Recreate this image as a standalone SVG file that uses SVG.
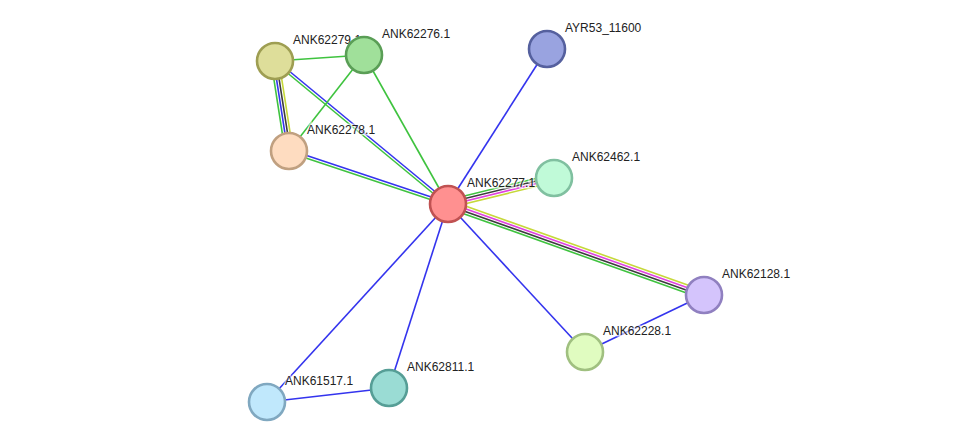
<svg xmlns="http://www.w3.org/2000/svg" width="975" height="448" viewBox="0 0 975 448">
<style>
.e{stroke-width:1.6;fill:none}
.g{stroke:#3fc33f}.b{stroke:#3434ee}.k{stroke:#3c3c3c}.m{stroke:#e040e0}.y{stroke:#c6d83a}
.n{stroke-width:2.6}
.t{font-family:"Liberation Sans",Arial,sans-serif;font-size:12px;fill:#222;paint-order:stroke;stroke:#fff;stroke-width:3;stroke-opacity:0.6}
</style>
<rect width="975" height="448" fill="#fff"/>
<g id="connectors">
<line class="e g" x1="275" y1="61" x2="364" y2="55"/>
<line class="e g" transform="translate(-3.85 0.6)" x1="275" y1="61" x2="289" y2="151"/>
<line class="e b" transform="translate(-1.28 0.2)" x1="275" y1="61" x2="289" y2="151"/>
<line class="e k" transform="translate(1.28 -0.2)" x1="275" y1="61" x2="289" y2="151"/>
<line class="e y" transform="translate(3.85 -0.6)" x1="275" y1="61" x2="289" y2="151"/>
<line class="e b" transform="translate(0.83 -1.0)" x1="275" y1="61" x2="448" y2="204"/>
<line class="e g" transform="translate(-0.83 1.0)" x1="275" y1="61" x2="448" y2="204"/>
<line class="e g" x1="364" y1="55" x2="289" y2="151"/>
<line class="e g" x1="364" y1="55" x2="448" y2="204"/>
<line class="e b" transform="translate(0.41 -1.23)" x1="289" y1="151" x2="448" y2="204"/>
<line class="e g" transform="translate(-0.41 1.23)" x1="289" y1="151" x2="448" y2="204"/>
<line class="e b" x1="547" y1="49" x2="448" y2="204"/>
<line class="e g" transform="translate(-0.93 -3.79)" x1="448" y1="204" x2="554" y2="178"/>
<line class="e k" transform="translate(-0.31 -1.26)" x1="448" y1="204" x2="554" y2="178"/>
<line class="e m" transform="translate(0.31 1.26)" x1="448" y1="204" x2="554" y2="178"/>
<line class="e y" transform="translate(0.93 3.79)" x1="448" y1="204" x2="554" y2="178"/>
<line class="e y" transform="translate(1.31 -3.67)" x1="448" y1="204" x2="704" y2="295"/>
<line class="e m" transform="translate(0.44 -1.22)" x1="448" y1="204" x2="704" y2="295"/>
<line class="e k" transform="translate(-0.44 1.22)" x1="448" y1="204" x2="704" y2="295"/>
<line class="e g" transform="translate(-1.31 3.67)" x1="448" y1="204" x2="704" y2="295"/>
<line class="e b" x1="448" y1="204" x2="585" y2="352"/>
<line class="e b" x1="704" y1="295" x2="585" y2="352"/>
<line class="e b" x1="448" y1="204" x2="389" y2="388"/>
<line class="e b" x1="448" y1="204" x2="267" y2="402"/>
<line class="e b" x1="389" y1="388" x2="267" y2="402"/>
</g>
<g id="ANK62279.1"><circle class="n" cx="275" cy="61" r="18" fill="#dede9a" stroke="#9e9e52"/><text class="t" x="293" y="44">ANK62279.1</text></g>
<g id="ANK62276.1"><circle class="n" cx="364" cy="55" r="18" fill="#a0e09a" stroke="#5a9e56"/><text class="t" x="382" y="38">ANK62276.1</text></g>
<g id="ANK62278.1"><circle class="n" cx="289" cy="151" r="18" fill="#fedcc0" stroke="#c0a080"/><text class="t" x="307" y="134">ANK62278.1</text></g>
<g id="AYR53_11600"><circle class="n" cx="547" cy="49" r="18" fill="#99a3e0" stroke="#55609e"/><text class="t" x="565" y="32">AYR53_11600</text></g>
<g id="ANK62462.1"><circle class="n" cx="554" cy="178" r="18" fill="#c0fad8" stroke="#80c0a0"/><text class="t" x="572" y="161">ANK62462.1</text></g>
<g id="ANK62277.1"><circle class="n" cx="448" cy="204" r="18" fill="#ff9090" stroke="#c05252"/><text class="t" x="467" y="187">ANK62277.1</text></g>
<g id="ANK62128.1"><circle class="n" cx="704" cy="295" r="18" fill="#d4c4fc" stroke="#9080c0"/><text class="t" x="722" y="278">ANK62128.1</text></g>
<g id="ANK62228.1"><circle class="n" cx="585" cy="352" r="18" fill="#e0fcc0" stroke="#a0c080"/><text class="t" x="603" y="335">ANK62228.1</text></g>
<g id="ANK62811.1"><circle class="n" cx="389" cy="388" r="18" fill="#9adcd4" stroke="#569e96"/><text class="t" x="407" y="371">ANK62811.1</text></g>
<g id="ANK61517.1"><circle class="n" cx="267" cy="402" r="18" fill="#c0e8fc" stroke="#80a8c0"/><text class="t" x="285" y="385">ANK61517.1</text></g>
</svg>
